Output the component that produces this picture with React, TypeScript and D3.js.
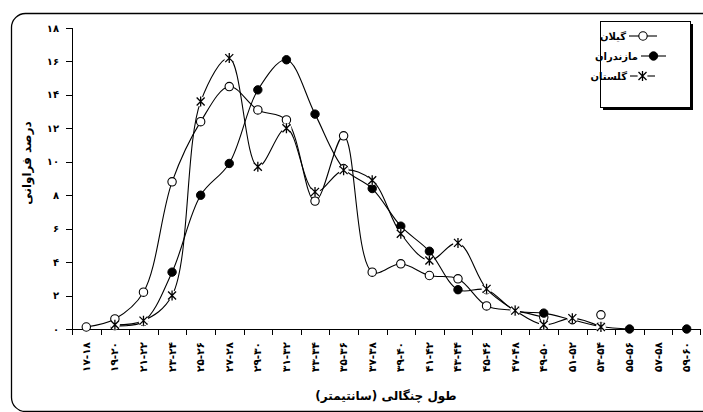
import React from "react";
import * as d3 from "d3";

// Fork-length classes (cm), Persian digits
const categories = [
  "۱۷-۱۸", "۱۹-۲۰", "۲۱-۲۲", "۲۳-۲۴", "۲۵-۲۶", "۲۷-۲۸", "۲۹-۳۰", "۳۱-۳۲",
  "۳۳-۳۴", "۳۵-۳۶", "۳۷-۳۸", "۳۹-۴۰", "۴۱-۴۲", "۴۳-۴۴", "۴۵-۴۶", "۴۷-۴۸",
  "۴۹-۵۰", "۵۱-۵۲", "۵۳-۵۴", "۵۵-۵۶", "۵۷-۵۸", "۵۹-۶۰",
];

// Frequency percentage per province (null = no observation)
const gilan = [
  0.12, 0.6, 2.2, 8.8, 12.4, 14.5, 13.1, 12.5, 7.65, 11.55, 3.4, 3.9, 3.2, 3.0,
  1.38, 1.1, 0.7, null, 0.85, null, null, null,
];
const mazandaran = [
  null, 0.2, 0.45, 3.4, 8.0, 9.9, 14.3, 16.1, 12.85, 9.6, 8.4, 6.15, 4.65, 2.35,
  2.35, 1.1, 0.95, 0.55, 0.15, 0.0, null, 0.0,
];
const golestan = [
  null, 0.25, 0.5, 2.0, 13.6, 16.2, 9.7, 12.0, 8.2, 9.5, 8.9, 5.7, 4.1, 5.15,
  2.4, 1.1, 0.25, 0.65, 0.12, null, null, null,
];

const yTicks = [0, 2, 4, 6, 8, 10, 12, 14, 16, 18];

const seriesNames = ["گیلان", "مازندران", "گلستان"];
const markerKinds = ["open", "filled", "star"];

const toPersian = (n: number) =>
  String(n).replace(/\d/g, (d) => "۰۱۲۳۴۵۶۷۸۹"[+d]);

const W = 703;
const H = 412;
const FONT = "'DejaVu Sans', Arial, sans-serif";

const x = d3.scaleBand<string>().domain(categories).range([72, 701]);
const y = d3.scaleLinear().domain([0, 18]).range([329, 28]);

const cx = (i: number) => (x(categories[i]) as number) + x.bandwidth() / 2;

const lineGen = d3
  .line<number | null>()
  .defined((d) => d !== null)
  .x((_, i) => cx(i))
  .y((d) => y(d as number))
  .curve(d3.curveCatmullRom.alpha(0.5));

const STAR = "M-4,-4L4,4M-4,4L4,-4M0,-5L0,5";

function Marker({ kind, tx, ty }: { kind: string; tx: number; ty: number }) {
  if (kind === "open")
    return <circle cx={tx} cy={ty} r={4.2} fill="#fff" stroke="#000" strokeWidth={1.1} />;
  if (kind === "filled")
    return <circle cx={tx} cy={ty} r={4.2} fill="#000" stroke="#000" strokeWidth={1} />;
  return (
    <g transform={`translate(${tx},${ty})`}>
      <circle r={5} fill="#fff" />
      <path d={STAR} stroke="#000" strokeWidth={1.3} fill="none" />
    </g>
  );
}

export default function App() {
  const series = [gilan, mazandaran, golestan];

  // legend rows: text end x, symbol span
  const legendRows = [
    { ty: 36, textEnd: 626, s0: 629, s1: 657 },
    { ty: 56, textEnd: 638, s0: 641, s1: 666 },
    { ty: 76, textEnd: 627, s0: 630, s1: 655 },
  ];

  return (
    <svg
      width={W}
      height={H}
      style={{ position: "absolute", left: 0, top: 0, background: "#fff" }}
      fontFamily={FONT}
    >
      {/* outer frame */}
      <rect x={11.5} y={13.5} width={740} height={398} rx={14} fill="#fff" stroke="#000" strokeWidth={1.3} />

      {/* y axis */}
      <line x1={72.5} x2={72.5} y1={y(18)} y2={y(0)} stroke="#000" strokeWidth={1} />
      {yTicks.map((t) => (
        <g key={t}>
          <line x1={66} x2={72.5} y1={Math.round(y(t)) + 0.5} y2={Math.round(y(t)) + 0.5} stroke="#000" />
          <text
            x={59}
            y={y(t)}
            dy="0.35em"
            textAnchor="end"
            fontSize={10}
            fontWeight="bold"
            letterSpacing={1.5}
          >
            {toPersian(t)}
          </text>
        </g>
      ))}

      {/* x axis */}
      <line x1={72} x2={701} y1={329.5} y2={329.5} stroke="#000" strokeWidth={1} />
      {categories.map((c) => (
        <line
          key={"t" + c}
          x1={Math.round(x(c) as number) + 0.5}
          x2={Math.round(x(c) as number) + 0.5}
          y1={329.5}
          y2={335}
          stroke="#000"
        />
      ))}
      <line x1={700.5} x2={700.5} y1={329.5} y2={335} stroke="#000" />
      {categories.map((c, i) => (
        <text
          key={"l" + c}
          transform={`translate(${cx(i) + 3.5},342) rotate(-90)`}
          textAnchor="end"
          fontSize={10.5}
          fontWeight="bold"
          letterSpacing={2}
        >
          {c}
        </text>
      ))}

      {/* axis titles */}
      <text
        transform="translate(31,163) rotate(-90)"
        textAnchor="middle"
        fontSize={12}
        fontWeight="bold"
      >
        درصد فراوانی
      </text>
      <text x={386} y={400} textAnchor="middle" fontSize={12} fontWeight="bold">
        طول چنگالی (سانتیمتر)
      </text>

      {/* series */}
      {series.map((s, k) => (
        <g key={seriesNames[k]}>
          <path d={lineGen(s) || ""} fill="none" stroke="#000" strokeWidth={1.1} />
          {s.map((v, i) =>
            v === null ? null : <Marker key={i} kind={markerKinds[k]} tx={cx(i)} ty={y(v)} />
          )}
        </g>
      ))}

      {/* legend */}
      <rect x={603} y={24} width={90} height={86} fill="#000" />
      <rect x={600.5} y={21.5} width={90} height={86} fill="#fff" stroke="#000" />
      {legendRows.map((r, k) => (
        <g key={"lg" + k}>
          <text x={r.textEnd} y={r.ty} dy="0.35em" textAnchor="end" fontSize={10} fontWeight="bold">
            {seriesNames[k]}
          </text>
          <line x1={r.s0} x2={r.s1} y1={r.ty} y2={r.ty} stroke="#000" strokeWidth={1.1} />
          <Marker kind={markerKinds[k]} tx={(r.s0 + r.s1) / 2} ty={r.ty} />
        </g>
      ))}
    </svg>
  );
}
